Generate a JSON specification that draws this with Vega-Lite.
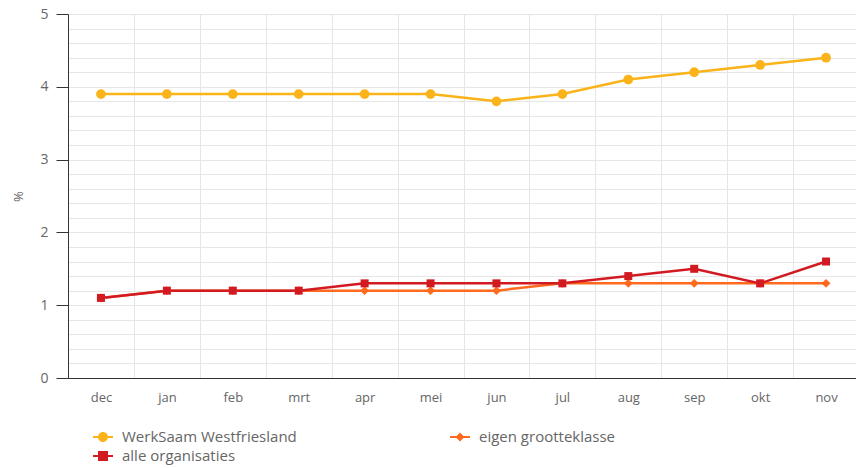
{
  "$schema": "https://vega.github.io/schema/vega-lite/v6.json",
  "width": 791,
  "height": 364,
  "autosize": {"type": "none"},
  "padding": {"left": 68, "top": 14, "right": 0, "bottom": 90},
  "background": "white",
  "config": {"view": {"stroke": null}, "font": "Open Sans"},
  "data": {
    "values": [
      {"maand": "dec", "serie": "WerkSaam Westfriesland", "waarde": 3.9},
      {"maand": "jan", "serie": "WerkSaam Westfriesland", "waarde": 3.9},
      {"maand": "feb", "serie": "WerkSaam Westfriesland", "waarde": 3.9},
      {"maand": "mrt", "serie": "WerkSaam Westfriesland", "waarde": 3.9},
      {"maand": "apr", "serie": "WerkSaam Westfriesland", "waarde": 3.9},
      {"maand": "mei", "serie": "WerkSaam Westfriesland", "waarde": 3.9},
      {"maand": "jun", "serie": "WerkSaam Westfriesland", "waarde": 3.8},
      {"maand": "jul", "serie": "WerkSaam Westfriesland", "waarde": 3.9},
      {"maand": "aug", "serie": "WerkSaam Westfriesland", "waarde": 4.1},
      {"maand": "sep", "serie": "WerkSaam Westfriesland", "waarde": 4.2},
      {"maand": "okt", "serie": "WerkSaam Westfriesland", "waarde": 4.3},
      {"maand": "nov", "serie": "WerkSaam Westfriesland", "waarde": 4.4},
      {"maand": "dec", "serie": "eigen grootteklasse", "waarde": 1.1},
      {"maand": "jan", "serie": "eigen grootteklasse", "waarde": 1.2},
      {"maand": "feb", "serie": "eigen grootteklasse", "waarde": 1.2},
      {"maand": "mrt", "serie": "eigen grootteklasse", "waarde": 1.2},
      {"maand": "apr", "serie": "eigen grootteklasse", "waarde": 1.2},
      {"maand": "mei", "serie": "eigen grootteklasse", "waarde": 1.2},
      {"maand": "jun", "serie": "eigen grootteklasse", "waarde": 1.2},
      {"maand": "jul", "serie": "eigen grootteklasse", "waarde": 1.3},
      {"maand": "aug", "serie": "eigen grootteklasse", "waarde": 1.3},
      {"maand": "sep", "serie": "eigen grootteklasse", "waarde": 1.3},
      {"maand": "okt", "serie": "eigen grootteklasse", "waarde": 1.3},
      {"maand": "nov", "serie": "eigen grootteklasse", "waarde": 1.3},
      {"maand": "dec", "serie": "alle organisaties", "waarde": 1.1},
      {"maand": "jan", "serie": "alle organisaties", "waarde": 1.2},
      {"maand": "feb", "serie": "alle organisaties", "waarde": 1.2},
      {"maand": "mrt", "serie": "alle organisaties", "waarde": 1.2},
      {"maand": "apr", "serie": "alle organisaties", "waarde": 1.3},
      {"maand": "mei", "serie": "alle organisaties", "waarde": 1.3},
      {"maand": "jun", "serie": "alle organisaties", "waarde": 1.3},
      {"maand": "jul", "serie": "alle organisaties", "waarde": 1.3},
      {"maand": "aug", "serie": "alle organisaties", "waarde": 1.4},
      {"maand": "sep", "serie": "alle organisaties", "waarde": 1.5},
      {"maand": "okt", "serie": "alle organisaties", "waarde": 1.3},
      {"maand": "nov", "serie": "alle organisaties", "waarde": 1.6}
    ]
  },
  "encoding": {
    "x": {
      "field": "maand",
      "type": "nominal",
      "scale": {"type": "band", "domain": ["dec","jan","feb","mrt","apr","mei","jun","jul","aug","sep","okt","nov"], "paddingInner": 0, "paddingOuter": 0},
      "axis": {
        "title": null,
        "labelAngle": 0,
        "tickBand": "extent",
        "ticks": false,
        "grid": true,
        "gridColor": "#e6e6e6",
        "domainColor": "#333333",
        "labelColor": "#666666",
        "labelFontSize": 13,
        "labelPadding": 13
      }
    },
    "y": {
      "field": "waarde",
      "type": "quantitative",
      "scale": {"domain": [0, 5], "nice": false},
      "axis": {
        "title": "%",
        "titleColor": "#666666",
        "titleFontSize": 13,
        "titleFontWeight": "normal",
        "titleX": -50,
        "titleY": 182,
        "titleAlign": "center",
        "titleBaseline": "middle",
        "format": "~g",
        "values": [0,0.2,0.4,0.6,0.8,1,1.2,1.4,1.6,1.8,2,2.2,2.4,2.6,2.8,3,3.2,3.4,3.6,3.8,4,4.2,4.4,4.6,4.8,5],
        "labelExpr": "datum.value == round(datum.value) ? datum.label : ''",
        "tickOpacity": {"condition": {"test": "datum.value == round(datum.value)", "value": 1}, "value": 0},
        "tickSize": 12,
        "tickColor": "#333333",
        "labelPadding": 8,
        "labelColor": "#666666",
        "labelFontSize": 14,
        "domainColor": "#333333",
        "grid": true,
        "gridColor": "#e6e6e6"
      }
    }
  },
  "layer": [
    {
      "mark": {"type": "line", "strokeWidth": 2.5},
      "encoding": {
        "color": {
          "field": "serie",
          "type": "nominal",
          "scale": {"domain": ["WerkSaam Westfriesland","eigen grootteklasse","alle organisaties"], "range": ["#FBB31A","#FF6A1F","#D21A22"]},
          "legend": null
        }
      }
    },
    {
      "mark": {"type": "point", "filled": true, "opacity": 1},
      "encoding": {
        "color": {
          "field": "serie",
          "type": "nominal",
          "scale": {"domain": ["WerkSaam Westfriesland","eigen grootteklasse","alle organisaties"], "range": ["#FBB31A","#FF6A1F","#D21A22"]},
          "legend": null
        },
        "shape": {
          "field": "serie",
          "type": "nominal",
          "scale": {"domain": ["WerkSaam Westfriesland","eigen grootteklasse","alle organisaties"], "range": ["circle","diamond","square"]},
          "legend": null
        },
        "size": {
          "field": "serie",
          "type": "nominal",
          "scale": {"domain": ["WerkSaam Westfriesland","eigen grootteklasse","alle organisaties"], "range": [95, 64, 115]},
          "legend": null
        }
      }
    },
    {
      "transform": [{"filter": "datum.waarde < 0"}],
      "mark": {"type": "point", "filled": true, "opacity": 1, "strokeWidth": 0},
      "encoding": {
        "color": {
          "field": "serie",
          "type": "nominal",
          "scale": {"domain": ["WerkSaam Westfriesland","alle organisaties","eigen grootteklasse"], "range": ["#FBB31A","#D21A22","#FF6A1F"]},
          "legend": {
            "title": null,
            "orient": "none",
            "legendX": 25,
            "legendY": 413,
            "columns": 2,
            "columnPadding": 153,
            "rowPadding": 1,
            "symbolSize": 400,
            "symbolStrokeWidth": 0,
            "labelFontSize": 15,
            "labelColor": "#666666",
            "labelOffset": 9,
            "labelLimit": 400
          }
        },
        "shape": {
          "field": "serie",
          "type": "nominal",
          "scale": {
            "domain": ["WerkSaam Westfriesland","alle organisaties","eigen grootteklasse"],
            "range": [
              "M-1,-0.1H1V0.1H-1Z M0.5,0A0.5,0.5 0 1,1 -0.5,0A0.5,0.5 0 1,1 0.5,0Z",
              "M-1,-0.1H1V0.1H-1Z M-0.5,-0.5H0.5V0.5H-0.5Z",
              "M-1,-0.1H1V0.1H-1Z M0,-0.45L0.45,0L0,0.45L-0.45,0Z"
            ]
          },
          "legend": {
            "title": null,
            "orient": "none",
            "legendX": 25,
            "legendY": 413,
            "columns": 2,
            "columnPadding": 153,
            "rowPadding": 1,
            "symbolSize": 400,
            "symbolStrokeWidth": 0,
            "labelFontSize": 15,
            "labelColor": "#666666",
            "labelOffset": 9,
            "labelLimit": 400
          }
        }
      }
    }
  ],
  "resolve": {"scale": {"shape": "independent", "size": "independent", "color": "independent"}}
}
